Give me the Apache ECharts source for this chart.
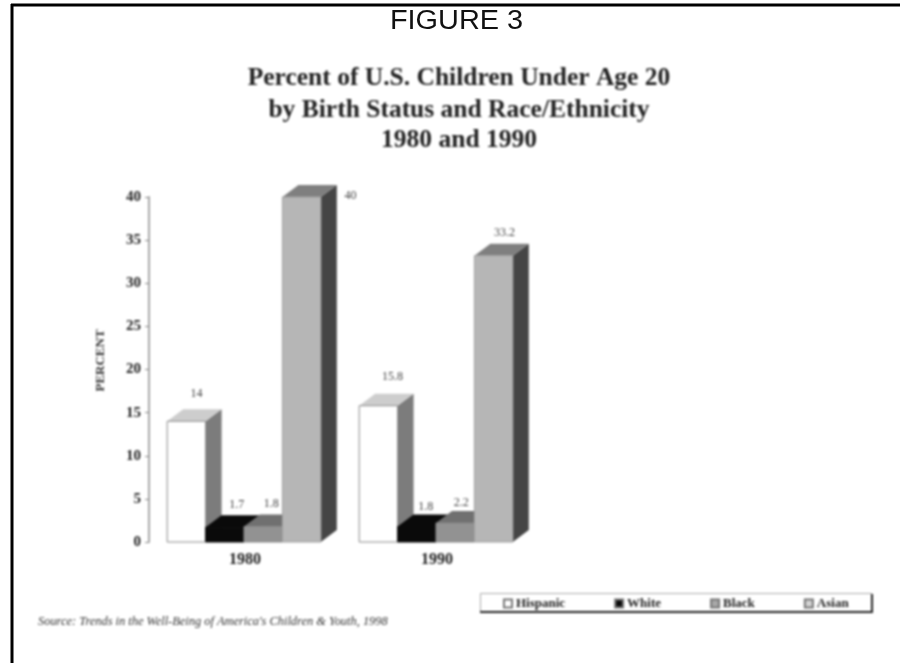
<!DOCTYPE html>
<html><head><meta charset="utf-8">
<style>
html,body{margin:0;padding:0;background:#fff}
#c{width:900px;height:663px}
#c canvas:first-child{filter:blur(0.9px)}
</style>
<script src="https://cdn.jsdelivr.net/npm/echarts@6/dist/echarts.min.js"></script>
</head><body><div id="c"></div>
<script>
const years = ['1980', '1990'];
const hispanic = [14, 15.8];
const white = [1.7, 1.8];
const black = [1.8, 2.2];
const asian = [40, 33.2];
const hispanicLabels = ['14', '15.8'];
const whiteLabels = ['1.7', '1.8'];
const blackLabels = ['1.8', '2.2'];
const asianLabels = ['40', '33.2'];
const yTicks = [0, 5, 10, 15, 20, 25, 30, 35, 40];

const SERIF = '"Liberation Serif","Times New Roman",serif';
const races = [
  {name:'Hispanic', vals:hispanic, labels:hispanicLabels, front:'#ffffff', top:'#cdcdcd', side:'#7c7c7c', edge:'#8a8a8a', key:'#ffffff', nudge:[[9,-27],[13,-29]]},
  {name:'White', vals:white, labels:whiteLabels, front:'#0a0a0a', top:'#0a0a0a', side:'#222222', edge:'#0a0a0a', key:'#0a0a0a', nudge:[[11,-22],[8,-20]]},
  {name:'Black', vals:black, labels:blackLabels, front:'#929292', top:'#707070', side:'#555555', edge:'#8a8a8a', key:'#a8a8a8', nudge:[[7,-23],[5,-20]]},
  {name:'Asian', vals:asian, labels:asianLabels, front:'#b6b6b6', top:'#7f7f7f', side:'#454545', edge:'#a0a0a0', key:'#d4d4d4', nudge:[[48,-1],[10,-23]]}
];
const DX = 16, DY = 12;

function makeRender(r, idx){
  return function(params, api){
    const cat = api.value(0), v = api.value(1);
    const top = api.coord([cat, v]);
    const base = api.coord([cat, 0]);
    const band = api.size([1,0])[0];
    const w = band * 0.2;
    const x0 = top[0] - band*0.4 + idx*w - 1, x1 = x0 + w;
    const yT = top[1], yB = base[1];
    const n = r.nudge[params.dataIndexInside];
    return {type:'group', children:[
      {type:'polygon', shape:{points:[[x1,yT],[x1+DX,yT-DY],[x1+DX,yB-DY],[x1,yB]]}, style:{fill:r.side}},
      {type:'polygon', shape:{points:[[x0,yT],[x0+DX,yT-DY],[x1+DX,yT-DY],[x1,yT]]}, style:{fill:r.top}},
      {type:'rect', shape:{x:x0,y:yT,width:w,height:yB-yT}, style:{fill:r.front, stroke:r.edge, lineWidth:1}},
      {type:'text', x:(x0+x1)/2+n[0]+1, y:yT+n[1], style:{text:r.labels[params.dataIndexInside], font:'12px '+SERIF, fill:'#444', align:'center', verticalAlign:'middle'}}
    ]};
  };
}

const chart = echarts.init(document.getElementById('c'), null, {renderer:'canvas'});
chart.setOption({
  animation:false,
  backgroundColor:'#fff',
  grid:{left:149, top:197, width:384, height:345},
  xAxis:{type:'category', data:years, axisLine:{show:false}, axisTick:{show:false},
    axisLabel:{margin:10, color:'#222', fontFamily:SERIF, fontWeight:'bold', fontSize:16}},
  yAxis:{type:'value', min:0, max:40, interval:5,
    name:'PERCENT', nameLocation:'middle', nameGap:42, nameRotate:90,
    nameTextStyle:{color:'#333', fontFamily:SERIF, fontWeight:'bold', fontSize:13, padding:[0,0,0,18]},
    splitLine:{show:false},
    axisLine:{show:true, lineStyle:{color:'#a8a8a8', width:2}},
    axisTick:{show:true, length:4, lineStyle:{color:'#888', width:1}},
    axisLabel:{margin:8, color:'#222', fontFamily:SERIF, fontWeight:'bold', fontSize:15,
      customValues:yTicks}},
  legend:{show:true, left:503, top:597, itemWidth:8, itemHeight:8, itemGap:49, icon:'rect', padding:0,
    selectedMode:false,
    textStyle:{color:'#222', fontFamily:SERIF, fontWeight:'bold', fontSize:13, padding:[0,0,0,-1]},
    data:races.map(r=>r.name)},
  series:races.map((r,i)=>({
    type:'custom', name:r.name, clip:false, z:2+i,
    coordinateSystem:'cartesian2d',
    itemStyle:{color:r.key, borderColor:'#777', borderWidth:1},
    encode:{x:0,y:1},
    data:r.vals.map((v,j)=>[j,v]),
    renderItem:makeRender(r,i)
  })),
  graphic:[
    {type:'rect', silent:true, shape:{x:480.5,y:593.5,width:391,height:18}, style:{fill:'none', stroke:'#aaa', lineWidth:1}},
    {type:'polyline', silent:true, shape:{points:[[480,612],[872,612],[872,594]]}, style:{fill:'none', stroke:'#222', lineWidth:2}},
    {type:'text', left:38, top:616, style:{text:"Source: Trends in the Well-Being of America's Children & Youth, 1998", font:'italic 12.4px '+SERIF, fill:'#333'}},
    {type:'text', x:459, y:78, style:{text:'Percent of U.S. Children Under Age 20', font:'bold 25.5px '+SERIF, fill:'#222', align:'center', verticalAlign:'middle'}},
    {type:'text', x:459, y:110, style:{text:'by Birth Status and Race/Ethnicity', font:'bold 25.5px '+SERIF, fill:'#222', align:'center', verticalAlign:'middle'}},
    {type:'text', x:459, y:140, style:{text:'1980 and 1990', font:'bold 25.5px '+SERIF, fill:'#222', align:'center', verticalAlign:'middle'}},
    {type:'line', zlevel:1, silent:true, shape:{x1:11,y1:5,x2:900,y2:5}, style:{stroke:'#000', lineWidth:3}},
    {type:'line', zlevel:1, silent:true, shape:{x1:12,y1:4,x2:12,y2:663}, style:{stroke:'#000', lineWidth:3}},
    {type:'text', zlevel:1, x:456.5, y:22, scaleX:1.07, style:{text:'FIGURE 3', font:'27px "Liberation Sans",Arial,sans-serif', fill:'#111', align:'center', verticalAlign:'middle'}}
  ]
});
</script></body></html>
